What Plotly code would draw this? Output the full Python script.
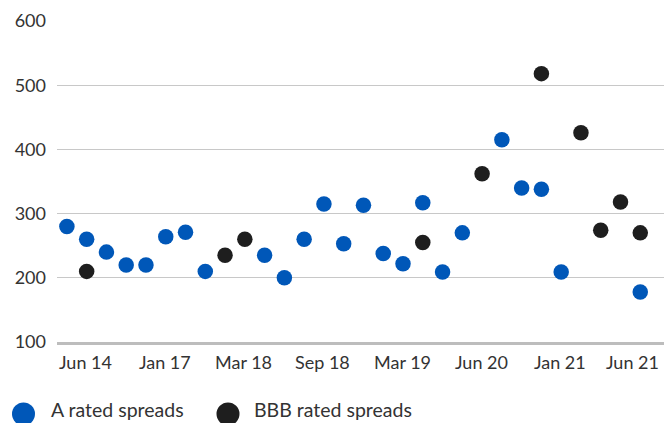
import plotly.graph_objects as go

# ---- data ----
positions = list(range(30))
a_rated = [280, 260, 240, 220, 220, 264, 271, 210, None, None,
           235, 200, 260, 315, 253, 313, 238, 222, 317, 209,
           270, None, 415, 340, 338, 209, None, None, None, 178]
bbb_rated = [None, 210, None, None, None, None, None, None, 235, 260,
             None, None, None, None, None, None, None, None, 255, None,
             None, 362, None, None, 518, None, 426, 274, 318, 270]
tick_positions = [1, 5, 9, 13, 17, 21, 25, 29]
tick_labels = ["Jun 14", "Jan 17", "Mar 18", "Sep 18", "Mar 19", "Jun 20", "Jan 21", "Jun 21"]
series_names = ["A rated spreads", "BBB rated spreads"]
series_colors = ["#0057B8", "#1E1E1E"]

W, H = 664, 423
ML, MR, MT, MB = 57, 0, 21, 81
FONT = "Lato"
TXT = "#333333"

fig = go.Figure()
for name, vals, col in zip(series_names, [a_rated, bbb_rated], series_colors):
    fig.add_trace(go.Scatter(
        x=positions, y=vals, mode="markers", name=name,
        marker=dict(size=15.5, color=col, line=dict(width=0)),
        showlegend=False, cliponaxis=False,
    ))

pw = W - ML - MR
ph = H - MT - MB
def px2paper_x(px):
    return (px - ML) / pw
def px2paper_y(py):
    return (H - MB - py) / ph

shapes, annotations = [], []

# x tick labels as annotations (last one kept inside the page edge)
for i, (pos, lab) in enumerate(zip(tick_positions, tick_labels)):
    last = i == len(tick_positions) - 1
    annotations.append(dict(
        xref="x", yref="paper", x=pos, y=px2paper_y(362),
        xanchor="right" if last else "center", yanchor="middle",
        xshift=21 if last else -1,
        showarrow=False, text=lab,
        font=dict(family=FONT, size=18, color=TXT),
    ))

# custom legend (large circles + text)
legend_items = [(23.5, 49), (228, 252)]
for (cx, tx), name, col in zip(legend_items, series_names, series_colors):
    shapes.append(dict(
        type="circle", xref="paper", yref="paper",
        xsizemode="pixel", ysizemode="pixel",
        xanchor=px2paper_x(cx), yanchor=px2paper_y(414),
        x0=-11.5, x1=11.5, y0=-11.5, y1=11.5,
        fillcolor=col, line=dict(width=0),
    ))
    annotations.append(dict(
        xref="paper", yref="paper", x=px2paper_x(tx), y=px2paper_y(409.5),
        xanchor="left", yanchor="middle", showarrow=False, text=name,
        font=dict(family=FONT, size=19.5, color=TXT),
    ))

fig.update_layout(
    width=W, height=H,
    margin=dict(l=ML, r=MR, t=MT, b=MB, pad=0, autoexpand=False),
    paper_bgcolor="white", plot_bgcolor="white",
    font=dict(family=FONT, size=18, color=TXT),
    shapes=shapes, annotations=annotations,
    xaxis=dict(
        range=[-0.5, 30.2], tickmode="array",
        tickvals=tick_positions, showticklabels=False,
        showgrid=False, zeroline=False, automargin=False,
        showline=True, linecolor="#BDBDBD", linewidth=3,
        ticks="",
    ),
    yaxis=dict(
        range=[100, 600], tickvals=[100, 200, 300, 400, 500, 600],
        showgrid=True, gridcolor="#C8C8C8", gridwidth=1.2,
        zeroline=False, showline=False, ticks="", automargin=False,
        ticklabelstandoff=10,
        tickfont=dict(family=FONT, size=18, color=TXT),
    ),
)

fig.write_html("out.html")
